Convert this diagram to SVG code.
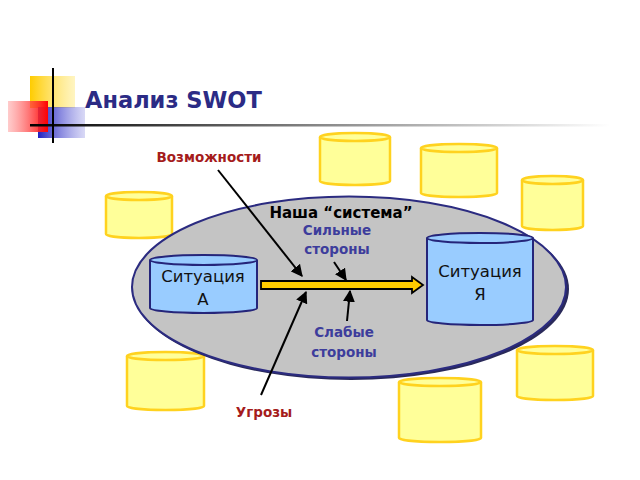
<svg xmlns="http://www.w3.org/2000/svg" width="640" height="480" viewBox="0 0 640 480">
<style>
.yc{fill:#ffff99;stroke:#ffd21f;stroke-width:2.5}
.bc{fill:#99ccff;stroke:#25257a;stroke-width:2}
.lbl{font-family:"DejaVu Sans",Verdana,sans-serif;font-weight:bold;text-anchor:middle}
.blue{fill:#3d3d9c;font-size:13.5px}
.red{fill:#a51c1c;font-size:13.5px}
.sit{font-family:"DejaVu Sans",Verdana,sans-serif;font-size:16.5px;fill:#111;text-anchor:middle}
.ln{stroke:#000;stroke-width:2;fill:none;marker-end:url(#ah)}
</style>
<defs>
<marker id="ah" viewBox="0 0 10 10" refX="9" refY="5" markerWidth="6" markerHeight="6" orient="auto" markerUnits="strokeWidth">
<path d="M0,0 L10,5 L0,10 z" fill="#000"/>
</marker>
<linearGradient id="gy" x1="0" y1="0" x2="1" y2="0">
<stop offset="0" stop-color="#ffcc00"/><stop offset="1" stop-color="#ffee99" stop-opacity="0.6"/>
</linearGradient>
<linearGradient id="gr" x1="0" y1="0" x2="1" y2="0">
<stop offset="0" stop-color="#ff9999" stop-opacity="0.5"/><stop offset="1" stop-color="#ff0000"/>
</linearGradient>
<linearGradient id="gb" x1="0" y1="0" x2="1" y2="0">
<stop offset="0" stop-color="#2020c0"/><stop offset="1" stop-color="#8080e0" stop-opacity="0.3"/>
</linearGradient>
<linearGradient id="gl" x1="0" y1="0" x2="1" y2="0">
<stop offset="0" stop-color="#000"/><stop offset="0.5" stop-color="#888"/><stop offset="1" stop-color="#fff"/>
</linearGradient>
</defs>
<rect width="640" height="480" fill="#fff"/>
<g id="logo">
<rect x="30" y="76" width="45" height="32" fill="url(#gy)"/>
<rect x="38" y="107" width="47" height="31" fill="url(#gb)"/>
<rect x="8" y="101" width="40" height="31" fill="url(#gr)"/>
<rect x="30" y="124" width="580" height="2.5" fill="url(#gl)"/>
<rect x="52" y="68" width="2" height="75" fill="#000"/>
</g>
<text id="title" x="85" y="108" font-family="'DejaVu Sans',Verdana,sans-serif" font-weight="bold" font-size="22.5" fill="#2b2b85">Анализ SWOT</text>
<g id="cyl-outer">
<g id="y1"><path class="yc" d="M106,196 V234 A33,4 0 0 0 172,234 V196"/><ellipse class="yc" cx="139" cy="196" rx="33" ry="4"/></g>
<g id="y2"><path class="yc" d="M320,137 V181 A35,4 0 0 0 390,181 V137"/><ellipse class="yc" cx="355" cy="137" rx="35" ry="4"/></g>
<g id="y3"><path class="yc" d="M421,148 V193 A38,4 0 0 0 497,193 V148"/><ellipse class="yc" cx="459" cy="148" rx="38" ry="4"/></g>
<g id="y4"><path class="yc" d="M522,180 V226 A30.5,4 0 0 0 583,226 V180"/><ellipse class="yc" cx="552.5" cy="180" rx="30.5" ry="4"/></g>
<g id="y5"><path class="yc" d="M127,356 V406 A38.5,4 0 0 0 204,406 V356"/><ellipse class="yc" cx="165.5" cy="356" rx="38.5" ry="4"/></g>
<g id="y6"><path class="yc" d="M399,382 V438 A41,4 0 0 0 481,438 V382"/><ellipse class="yc" cx="440" cy="382" rx="41" ry="4"/></g>
<g id="y7"><path class="yc" d="M517,350 V396 A38,4 0 0 0 593,396 V350"/><ellipse class="yc" cx="555" cy="350" rx="38" ry="4"/></g>
</g>
<g id="system">
<ellipse cx="351" cy="289" rx="218" ry="91" fill="#2a2a5a"/>
<ellipse cx="349" cy="287" rx="217" ry="90.5" fill="#c4c4c4" stroke="#2b2b80" stroke-width="2"/>
<text class="lbl" x="341" y="218" font-size="15" fill="#000">Наша “система”</text>
</g>
<g id="sitA">
<path class="bc" d="M150,260 V308 A53.5,5 0 0 0 257,308 V260"/><ellipse class="bc" cx="203.5" cy="260" rx="53.5" ry="5"/>
<text class="sit" x="203" y="282">Ситуация</text><text class="sit" x="203" y="305">А</text>
</g>
<g id="sitZ">
<path class="bc" d="M427,238 V320 A53,5 0 0 0 533,320 V238"/><ellipse class="bc" cx="480" cy="238" rx="53" ry="5"/>
<text class="sit" x="480" y="277">Ситуация</text><text class="sit" x="480" y="300">Я</text>
</g>
<g id="labels">
<text class="lbl blue" x="337" y="235">Сильные</text>
<text class="lbl blue" x="337" y="254">стороны</text>
<text class="lbl blue" x="344" y="337">Слабые</text>
<text class="lbl blue" x="344" y="357">стороны</text>
<text class="lbl red" x="209" y="162">Возможности</text>
<text class="lbl red" x="264" y="417">Угрозы</text>
</g>
<g id="connectors">
<path d="M261,281 H412 V277 L423,285 L412,293 V289 H261 Z" fill="#ffcc00" stroke="#000" stroke-width="1.8" stroke-linejoin="miter"/>
<line class="ln" x1="218" y1="170" x2="302" y2="276"/>
<line class="ln" x1="334" y1="262" x2="346" y2="280"/>
<line class="ln" x1="347" y1="321" x2="350" y2="291"/>
<line class="ln" x1="261" y1="395" x2="306" y2="292"/>
</g>
</svg>
